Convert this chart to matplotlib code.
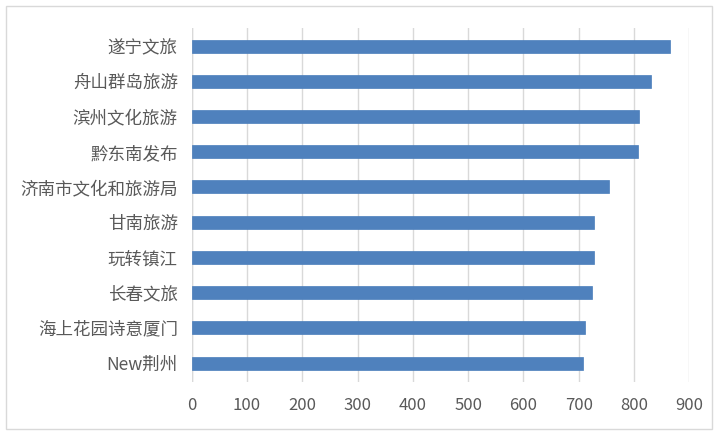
import matplotlib
matplotlib.use("Agg")
import matplotlib.pyplot as plt
from matplotlib.patches import Rectangle

plt.rcParams['font.family'] = ['Noto Sans CJK SC', 'DejaVu Sans']

categories = ["遂宁文旅", "舟山群岛旅游", "滨州文化旅游", "黔东南发布", "济南市文化和旅游局",
              "甘南旅游", "玩转镇江", "长春文旅", "海上花园诗意厦门", "New荆州"]
values = [865, 830, 809, 807, 754, 727, 727, 724, 711, 708]
xticks = [0, 100, 200, 300, 400, 500, 600, 700, 800, 900]

W, H = 720, 440
fig = plt.figure(figsize=(7.2, 4.4), dpi=100)
fig.patch.set_facecolor("white")

# outer chart border
fig.patches.append(Rectangle((6 / W, 1 - 429 / H), (712 - 6) / W, (429 - 6) / H,
                             transform=fig.transFigure, fill=False,
                             edgecolor="#d9d9d9", linewidth=1.0))

top_px, bot_px = 28.5, 381.7
left_px, right_px = 191.7, 689.3
ax = fig.add_axes([left_px / W, 1 - bot_px / H, (right_px - left_px) / W, (bot_px - top_px) / H])

y = list(range(len(categories)))
ax.barh(y, values, height=0.37, color="#4F81BD", edgecolor="#4A7EBB", linewidth=0.5, zorder=3)

ax.set_xlim(0, 900)
ax.set_ylim(9.53, -0.5)
ax.set_xticks(xticks)
ax.set_xticklabels([str(t) for t in xticks])
ax.set_yticks(y)
ax.set_yticklabels(categories)

ax.grid(axis="x", color="#d9d9d9", linewidth=1.0, zorder=0)
ax.axvline(0, color="#d9d9d9", linewidth=1.0, zorder=1)
for s in ax.spines.values():
    s.set_visible(False)
ax.tick_params(axis="both", length=0, labelcolor="#595959")
ax.tick_params(axis="x", pad=11, labelsize=12)
ax.tick_params(axis="y", pad=10, labelsize=12.6)

fig.savefig("out.png", dpi=100, facecolor="white")
